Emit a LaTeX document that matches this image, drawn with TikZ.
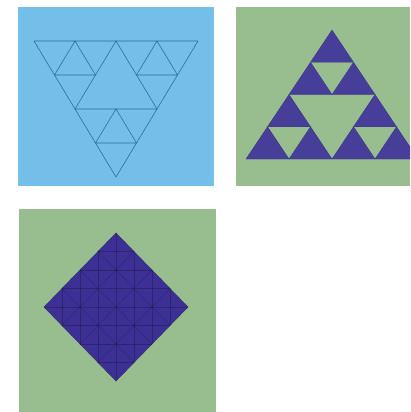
\documentclass[tikz,border=0pt]{standalone}
\usepackage{tikz}
\usetikzlibrary{calc}
\definecolor{cielo}{RGB}{115,191,234}
\definecolor{verdeFondo}{RGB}{152,190,144}
\definecolor{azulSier}{RGB}{70,62,152}
\definecolor{azulMalla}{RGB}{60,48,148}
\definecolor{lineaTeal}{RGB}{40,108,138}

\begin{document}
\begin{tikzpicture}[
  x=1pt, y=-1pt,
  hueco/.style={draw=lineaTeal, line width=0.55pt, line join=round},
  lleno/.style={fill=azulSier, draw=azulSier!85!black, line width=0.3pt},
  malla/.style={draw=azulMalla!50!black, line width=0.4pt, opacity=0.45},
  nudo/.style={fill=black!85, draw=none}
]
\useasboundingbox (0,0) rectangle (410,412);

% Fondos
\fill[cielo]      (18,7)  rectangle (214,186);
\fill[verdeFondo] (236,7) rectangle (410,186);
\fill[verdeFondo] (19,209) rectangle (216,412);

% Sierpinski invertido (solo contornos)
\coordinate (esqInv) at (34,41);
\foreach \ax/\ay in {0/0, 82/0, 41/68}
  \foreach \bx/\by in {0/0, 41/0, 20.5/34}
    \draw[hueco] ($(esqInv)+(\ax,\ay)+(\bx,\by)$) -- ++(41,0) -- ++(-20.5,34) -- cycle;

% Sierpinski relleno
\begin{scope}
  \clip (236,7) rectangle (410,186);
  \coordinate (esqSier) at (246,159);
  \foreach \ax/\ay in {0/0, 86/0, 43/-64.5}
    \foreach \bx/\by in {0/0, 43/0, 21.5/-32.25}
      \filldraw[lleno] ($(esqSier)+(\ax,\ay)+(\bx,\by)$) -- ++(43,0) -- ++(-21.5,-32.25) -- cycle;
\end{scope}

% Rombo con malla
\begin{scope}[shift={(116,307)}, x=18pt, y=-18.5pt]
  \coordinate (arriba)    at (0,4);
  \coordinate (derecha)   at (4,0);
  \coordinate (abajo)     at (0,-4);
  \coordinate (izquierda) at (-4,0);
  \filldraw[fill=azulMalla, draw=azulMalla!80!black, line width=0.4pt]
    (arriba) -- (derecha) -- (abajo) -- (izquierda) -- cycle;
  \begin{scope}
    \clip (arriba) -- (derecha) -- (abajo) -- (izquierda) -- cycle;
    \foreach \i in {-3,...,3} {
      \draw[malla] (\i,-4) -- (\i,4);
      \draw[malla] (-4,\i) -- (4,\i);
    }
    \foreach \c in {-2,0,2} {
      \draw[malla] (\c-5,5) -- (\c+5,-5);
      \draw[malla] (\c-5,-5) -- (\c+5,5);
    }
  \end{scope}
  \foreach \px/\py in {0/2, -1/1, 1/1, -2/0, 0/0, 2/0, -1/-1, 1/-1, 0/-2}
    \fill[nudo] (\px,\py) circle (1pt);
\end{scope}

\end{tikzpicture}
\end{document}
